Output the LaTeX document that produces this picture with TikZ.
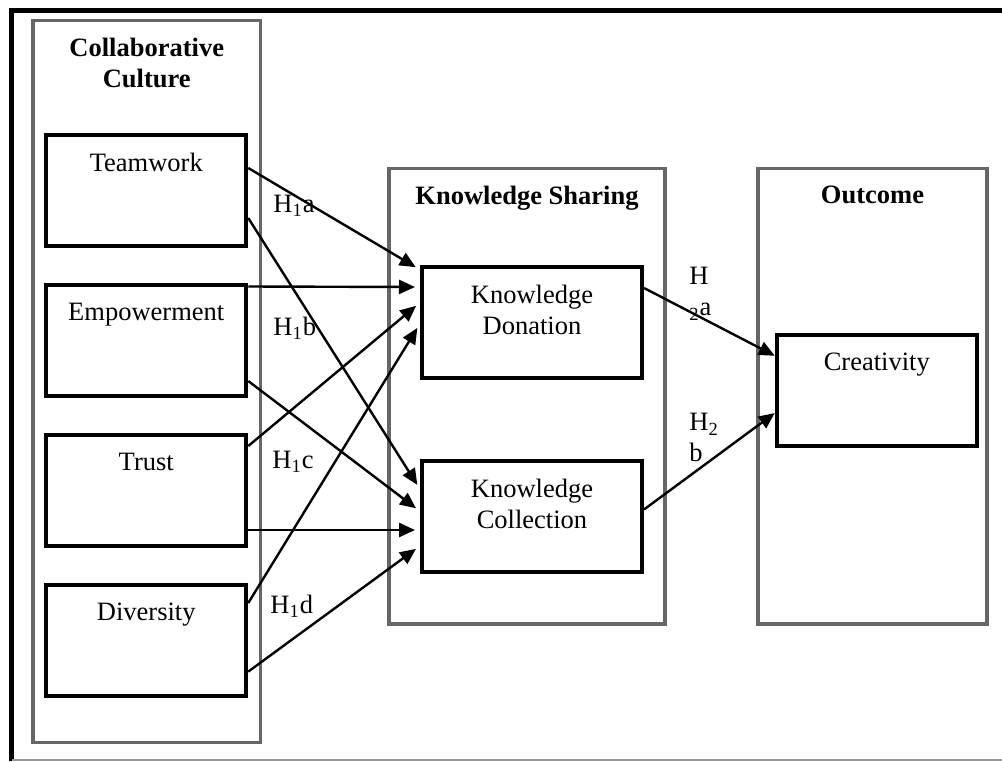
\documentclass[tikz,border=0pt]{standalone}
\usepackage{fontspec}
\setmainfont{Liberation Serif}
\usetikzlibrary{shapes,arrows.meta,positioning,calc}

\newcommand{\figfont}{\fontsize{13.25pt}{15.5pt}\selectfont}

\tikzset{
	group/.style={rectangle, draw=black!60, line width=1.75pt, inner sep=0pt},
	grouptitle/.style={anchor=north, yshift=-9.5pt, inner sep=0pt, align=center, font=\figfont\bfseries},
	factor/.style={rectangle, draw, line width=2pt, minimum width=100pt, minimum height=55.5pt, inner sep=0pt},
	factortext/.style={anchor=north, yshift=-10pt, inner sep=0pt, align=center, font=\figfont},
	hyp/.style={inner sep=0pt, align=left, font=\figfont},
	link/.style={line width=1.2pt, -{Triangle[length=8pt,width=7pt]}},
}

\begin{document}
\begin{tikzpicture}[x=0.5pt, y=-0.5pt, node distance=17.5pt]
	\useasboundingbox (0,0) rectangle (1002,761);
	% frame
	\draw[line width=2.5pt] (1002,10) -- (11.5,10) -- (11.5,761);
	\draw[black!40, line width=0.6pt] (11.5,760) -- (1002,760);
	
	% groups
	\node[group, minimum width=113.75pt, minimum height=361pt, label={[grouptitle]north:Collaborative\\Culture}] (cc) at (146.75,381.5) {};
	\node[group, minimum width=138pt, minimum height=227.75pt, label={[grouptitle]north:Knowledge Sharing}] (ks) at (527,396.25) {};
	\node[group, minimum width=114.5pt, minimum height=227.75pt, label={[grouptitle]north:Outcome}] (out) at (872.5,396.25) {};
	
	% collaborative culture
	\node[factor, label={[factortext]north:Teamwork}] (tw) at (146.25,190.5) {};
	\node[factor, below=of tw, label={[factortext]north:Empowerment}] (emp) {};
	\node[factor, below=of emp, label={[factortext]north:Trust}] (tr) {};
	\node[factor, below=of tr, label={[factortext]north:Diversity}] (div) {};
	
	% knowledge sharing
	\node[factor, minimum width=110pt, label={[factortext]north:Knowledge\\Donation}] (kd) at (532,322.5) {};
	\node[factor, minimum width=110pt, below=39.25pt of kd, label={[factortext]north:Knowledge\\Collection}] (kc) {};
	
	% outcome
	\node[factor, label={[factortext]north:Creativity}] (cr) at (876.75,390.25) {};
	
	% H1
	\draw[link, shorten >=2.5pt] ([yshift=-17.5pt]tw.north east) -- ([yshift=-2.35pt]kd.north west);
	\draw[link, shorten >=2.5pt] ([yshift=-42.5pt]tw.north east) -- ([yshift=-15.3pt]kc.north west);
	\draw[link, shorten >=2.5pt] ([yshift=-1.75pt]emp.north east) -- ([yshift=-11pt]kd.north west);
	\draw[link, shorten >=2.5pt] ([yshift=-49pt]emp.north east) -- ([yshift=-26.4pt]kc.north west);
	\draw[link, shorten >=2.5pt] ([yshift=-6.5pt]tr.north east) -- ([yshift=-18.8pt]kd.north west);
	\draw[link, shorten >=2.5pt] ([yshift=-48.5pt]tr.north east) -- ([yshift=-35.75pt]kc.north west);
	\draw[link, shorten >=2.5pt] ([yshift=-10pt]div.north east) -- ([yshift=-29.3pt]kd.north west);
	\draw[link, shorten >=2.5pt] ([yshift=-44.3pt]div.north east) -- ([yshift=-43.7pt]kc.north west);
	% H2
	\draw[link] ([yshift=-11.5pt]kd.north east) -- ([yshift=-11.5pt]cr.north west);
	\draw[link] ([yshift=-25.5pt]kc.north east) -- ([yshift=-40.15pt]cr.north west);
	
	% hypothesis labels
	\node[hyp, anchor=base west] (h1a) at (273,212) {H\textsubscript{1}a};
	\node[hyp, anchor=base west] (h1b) at (273,335) {H\textsubscript{1}b};
	\node[hyp, anchor=base west] (h1c) at (272,468) {H\textsubscript{1}c};
	\node[hyp, anchor=base west] (h1d) at (270,613) {H\textsubscript{1}d};
	\node[hyp, anchor=north west] (h2a) at (689,267) {H\\\textsubscript{2}a};
	\node[hyp, anchor=north west] (h2b) at (689,413) {H\textsubscript{2}\\b};
\end{tikzpicture}
\end{document}
